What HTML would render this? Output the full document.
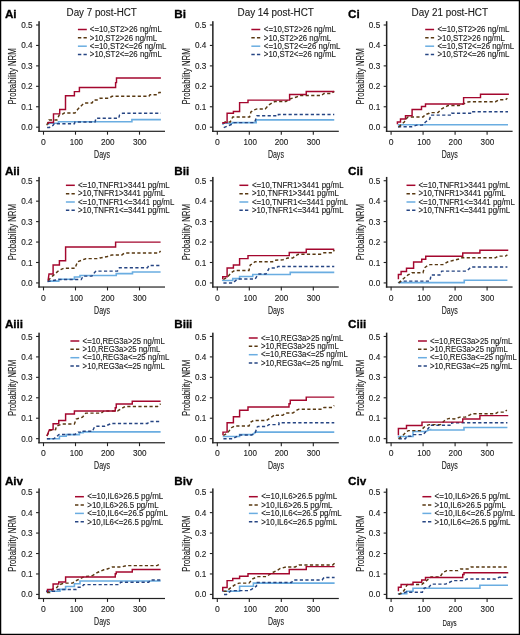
<!DOCTYPE html>
<html><head><meta charset="utf-8"><style>
html,body{margin:0;padding:0;background:#fff;width:520px;height:635px;overflow:hidden}
svg text{font-family:"Liberation Sans", sans-serif;stroke:#1a1a1a;stroke-width:0.12px}
svg{will-change:transform}
</style></head><body>
<svg width="520" height="635" viewBox="0 0 520 635" style="display:block">
<rect x="0" y="0" width="520" height="635" fill="#fff"/>
<text x="4.90" y="17.80" font-size="11.7" font-weight="bold" fill="#000" style="stroke:#000;stroke-width:0.3px">Ai</text>
<rect x="38.30" y="21.20" width="1.5" height="110.65" fill="#222222"/>
<rect x="38.30" y="130.70" width="126.70" height="1.2" fill="#222222"/>
<path d="M36.05,127.20 H38.95" stroke="#222222" stroke-width="1.1"/>
<text x="32.60" y="130.25" font-size="8.8" text-anchor="end" fill="#1a1a1a" textLength="11.4" lengthAdjust="spacingAndGlyphs">0.0</text>
<path d="M36.05,106.76 H38.95" stroke="#222222" stroke-width="1.1"/>
<text x="32.60" y="109.81" font-size="8.8" text-anchor="end" fill="#1a1a1a" textLength="11.4" lengthAdjust="spacingAndGlyphs">0.1</text>
<path d="M36.05,86.32 H38.95" stroke="#222222" stroke-width="1.1"/>
<text x="32.60" y="89.37" font-size="8.8" text-anchor="end" fill="#1a1a1a" textLength="11.4" lengthAdjust="spacingAndGlyphs">0.2</text>
<path d="M36.05,65.88 H38.95" stroke="#222222" stroke-width="1.1"/>
<text x="32.60" y="68.93" font-size="8.8" text-anchor="end" fill="#1a1a1a" textLength="11.4" lengthAdjust="spacingAndGlyphs">0.3</text>
<path d="M36.05,45.44 H38.95" stroke="#222222" stroke-width="1.1"/>
<text x="32.60" y="48.49" font-size="8.8" text-anchor="end" fill="#1a1a1a" textLength="11.4" lengthAdjust="spacingAndGlyphs">0.4</text>
<path d="M36.05,25.00 H38.95" stroke="#222222" stroke-width="1.1"/>
<text x="32.60" y="28.05" font-size="8.8" text-anchor="end" fill="#1a1a1a" textLength="11.4" lengthAdjust="spacingAndGlyphs">0.5</text>
<path d="M43.50,131.10 V134.70" stroke="#222222" stroke-width="1.1"/>
<text x="43.50" y="144.90" font-size="9.6" text-anchor="middle" fill="#1a1a1a" textLength="4.8" lengthAdjust="spacingAndGlyphs">0</text>
<path d="M75.50,131.10 V134.70" stroke="#222222" stroke-width="1.1"/>
<text x="76.40" y="144.90" font-size="9.6" text-anchor="middle" fill="#1a1a1a" textLength="13.4" lengthAdjust="spacingAndGlyphs">100</text>
<path d="M107.50,131.10 V134.70" stroke="#222222" stroke-width="1.1"/>
<text x="107.80" y="144.90" font-size="9.6" text-anchor="middle" fill="#1a1a1a" textLength="13.6" lengthAdjust="spacingAndGlyphs">200</text>
<path d="M139.50,131.10 V134.70" stroke="#222222" stroke-width="1.1"/>
<text x="139.80" y="144.90" font-size="9.6" text-anchor="middle" fill="#1a1a1a" textLength="13.6" lengthAdjust="spacingAndGlyphs">300</text>
<text x="102.10" y="158.00" font-size="10.1" text-anchor="middle" fill="#1a1a1a" textLength="16.0" lengthAdjust="spacingAndGlyphs">Days</text>
<text transform="translate(15.90,104.60) rotate(-90)" x="0" y="0" font-size="10.6" fill="#1a1a1a" textLength="56.3" lengthAdjust="spacingAndGlyphs">Probability NRM</text>
<path d="M77.90,29.50 H86.80" stroke="#A4072E" stroke-width="1.5"/>
<text x="89.80" y="32.25" font-size="8.15" fill="#1a1a1a" textLength="71.99" lengthAdjust="spacingAndGlyphs">&lt;=10,ST2&gt;26 ng/mL</text>
<path d="M77.90,37.85 H86.80" stroke="#583811" stroke-width="1.5" stroke-dasharray="3.4 2.2"/>
<text x="89.80" y="40.60" font-size="8.15" fill="#1a1a1a" textLength="67.39" lengthAdjust="spacingAndGlyphs">&gt;10,ST2&gt;26 ng/mL</text>
<path d="M77.90,46.20 H86.80" stroke="#6AADE1" stroke-width="1.5"/>
<text x="89.80" y="48.95" font-size="8.15" fill="#1a1a1a" textLength="76.58" lengthAdjust="spacingAndGlyphs">&lt;=10,ST2&lt;=26 ng/mL</text>
<path d="M77.90,54.55 H86.80" stroke="#264583" stroke-width="1.5" stroke-dasharray="3.4 2.2"/>
<text x="89.80" y="57.30" font-size="8.15" fill="#1a1a1a" textLength="71.99" lengthAdjust="spacingAndGlyphs">&gt;10,ST2&lt;=26 ng/mL</text>
<path d="M48.6,125 V123.3 H58.5 V121.7 H131.9 V119.6 H160.9" stroke="#6AADE1" stroke-width="1.6" fill="none"/>
<path d="M47.1,127.4 H49.5 L53.2,125.2 L54.2,123.7 H74.4 L75,122 H95 L96,118.25 H118.75 L119.5,115.1 L122.5,113.2 H160.9" stroke="#264583" stroke-width="1.45" fill="none" stroke-dasharray="3.2 2.35"/>
<path d="M46.8,125.2 L48.9,120 H56.9 L59.2,115 L62,114.5 L64.3,112.9 H75 L78,109 L84,103 H92 L94,100 H98 L100,98.25 H109 L112,96.3 H148.9 L150,94.7 H157.5 L159,92.5 H160.9" stroke="#583811" stroke-width="1.45" fill="none" stroke-dasharray="3.2 2.35"/>
<path d="M48.3,124 V122.5 H53.5 V113.85 H59.7 V109.5 H65.5 V95.75 H74.4 V91.6 H79.4 V87.4 H115.6 V82.6 H116.5 V78 H160.9" stroke="#A4072E" stroke-width="1.45" fill="none"/>
<text x="174.20" y="17.80" font-size="11.7" font-weight="bold" fill="#000" style="stroke:#000;stroke-width:0.3px">Bi</text>
<rect x="212.10" y="21.20" width="1.5" height="110.65" fill="#222222"/>
<rect x="212.10" y="130.70" width="126.70" height="1.2" fill="#222222"/>
<path d="M209.85,127.20 H212.75" stroke="#222222" stroke-width="1.1"/>
<text x="206.40" y="130.25" font-size="8.8" text-anchor="end" fill="#1a1a1a" textLength="11.4" lengthAdjust="spacingAndGlyphs">0.0</text>
<path d="M209.85,106.76 H212.75" stroke="#222222" stroke-width="1.1"/>
<text x="206.40" y="109.81" font-size="8.8" text-anchor="end" fill="#1a1a1a" textLength="11.4" lengthAdjust="spacingAndGlyphs">0.1</text>
<path d="M209.85,86.32 H212.75" stroke="#222222" stroke-width="1.1"/>
<text x="206.40" y="89.37" font-size="8.8" text-anchor="end" fill="#1a1a1a" textLength="11.4" lengthAdjust="spacingAndGlyphs">0.2</text>
<path d="M209.85,65.88 H212.75" stroke="#222222" stroke-width="1.1"/>
<text x="206.40" y="68.93" font-size="8.8" text-anchor="end" fill="#1a1a1a" textLength="11.4" lengthAdjust="spacingAndGlyphs">0.3</text>
<path d="M209.85,45.44 H212.75" stroke="#222222" stroke-width="1.1"/>
<text x="206.40" y="48.49" font-size="8.8" text-anchor="end" fill="#1a1a1a" textLength="11.4" lengthAdjust="spacingAndGlyphs">0.4</text>
<path d="M209.85,25.00 H212.75" stroke="#222222" stroke-width="1.1"/>
<text x="206.40" y="28.05" font-size="8.8" text-anchor="end" fill="#1a1a1a" textLength="11.4" lengthAdjust="spacingAndGlyphs">0.5</text>
<path d="M217.30,131.10 V134.70" stroke="#222222" stroke-width="1.1"/>
<text x="217.30" y="144.90" font-size="9.6" text-anchor="middle" fill="#1a1a1a" textLength="4.8" lengthAdjust="spacingAndGlyphs">0</text>
<path d="M249.30,131.10 V134.70" stroke="#222222" stroke-width="1.1"/>
<text x="250.20" y="144.90" font-size="9.6" text-anchor="middle" fill="#1a1a1a" textLength="13.4" lengthAdjust="spacingAndGlyphs">100</text>
<path d="M281.30,131.10 V134.70" stroke="#222222" stroke-width="1.1"/>
<text x="281.60" y="144.90" font-size="9.6" text-anchor="middle" fill="#1a1a1a" textLength="13.6" lengthAdjust="spacingAndGlyphs">200</text>
<path d="M313.30,131.10 V134.70" stroke="#222222" stroke-width="1.1"/>
<text x="313.60" y="144.90" font-size="9.6" text-anchor="middle" fill="#1a1a1a" textLength="13.6" lengthAdjust="spacingAndGlyphs">300</text>
<text x="275.90" y="158.00" font-size="10.1" text-anchor="middle" fill="#1a1a1a" textLength="16.0" lengthAdjust="spacingAndGlyphs">Days</text>
<text transform="translate(189.70,104.60) rotate(-90)" x="0" y="0" font-size="10.6" fill="#1a1a1a" textLength="56.3" lengthAdjust="spacingAndGlyphs">Probability NRM</text>
<path d="M251.35,29.50 H260.25" stroke="#A4072E" stroke-width="1.5"/>
<text x="263.85" y="32.25" font-size="8.15" fill="#1a1a1a" textLength="71.99" lengthAdjust="spacingAndGlyphs">&lt;=10,ST2&gt;26 ng/mL</text>
<path d="M251.35,37.85 H260.25" stroke="#583811" stroke-width="1.5" stroke-dasharray="3.4 2.2"/>
<text x="263.85" y="40.60" font-size="8.15" fill="#1a1a1a" textLength="67.39" lengthAdjust="spacingAndGlyphs">&gt;10,ST2&gt;26 ng/mL</text>
<path d="M251.35,46.20 H260.25" stroke="#6AADE1" stroke-width="1.5"/>
<text x="263.85" y="48.95" font-size="8.15" fill="#1a1a1a" textLength="76.58" lengthAdjust="spacingAndGlyphs">&lt;=10,ST2&lt;=26 ng/mL</text>
<path d="M251.35,54.55 H260.25" stroke="#264583" stroke-width="1.5" stroke-dasharray="3.4 2.2"/>
<text x="263.85" y="57.30" font-size="8.15" fill="#1a1a1a" textLength="71.99" lengthAdjust="spacingAndGlyphs">&gt;10,ST2&lt;=26 ng/mL</text>
<path d="M223,125.1 V123.25 H232.75 V122.6 H256.2 V119.9 H334.25" stroke="#6AADE1" stroke-width="1.6" fill="none"/>
<path d="M223.75,127.6 L232.75,123.9 L234,122.6 H254.5 L257,115.75 H278.4 V114.5 H334.25" stroke="#264583" stroke-width="1.45" fill="none" stroke-dasharray="3.2 2.35"/>
<path d="M223.75,123.5 L225,122 H230.25 L232.75,117 H249.6 L250.9,112 L253.4,110.1 L257,108.9 H265.25 L269,104.75 L272.75,102.6 L275,101.4 H285.9 L290.25,98.9 L296.5,97 L300.25,95.5 H321.5 L324,93.5 H331.5 L334.25,91.4" stroke="#583811" stroke-width="1.45" fill="none" stroke-dasharray="3.2 2.35"/>
<path d="M223,124 V122.6 H227.1 V113.25 H233.4 V111.4 H239.6 V102.6 H248 V100.1 H289.6 V94.5 H306.25 V91.4 H334.25" stroke="#A4072E" stroke-width="1.45" fill="none"/>
<text x="348.00" y="17.80" font-size="11.7" font-weight="bold" fill="#000" style="stroke:#000;stroke-width:0.3px">Ci</text>
<rect x="385.90" y="21.20" width="1.5" height="110.65" fill="#222222"/>
<rect x="385.90" y="130.70" width="126.70" height="1.2" fill="#222222"/>
<path d="M383.65,127.20 H386.55" stroke="#222222" stroke-width="1.1"/>
<text x="380.20" y="130.25" font-size="8.8" text-anchor="end" fill="#1a1a1a" textLength="11.4" lengthAdjust="spacingAndGlyphs">0.0</text>
<path d="M383.65,106.76 H386.55" stroke="#222222" stroke-width="1.1"/>
<text x="380.20" y="109.81" font-size="8.8" text-anchor="end" fill="#1a1a1a" textLength="11.4" lengthAdjust="spacingAndGlyphs">0.1</text>
<path d="M383.65,86.32 H386.55" stroke="#222222" stroke-width="1.1"/>
<text x="380.20" y="89.37" font-size="8.8" text-anchor="end" fill="#1a1a1a" textLength="11.4" lengthAdjust="spacingAndGlyphs">0.2</text>
<path d="M383.65,65.88 H386.55" stroke="#222222" stroke-width="1.1"/>
<text x="380.20" y="68.93" font-size="8.8" text-anchor="end" fill="#1a1a1a" textLength="11.4" lengthAdjust="spacingAndGlyphs">0.3</text>
<path d="M383.65,45.44 H386.55" stroke="#222222" stroke-width="1.1"/>
<text x="380.20" y="48.49" font-size="8.8" text-anchor="end" fill="#1a1a1a" textLength="11.4" lengthAdjust="spacingAndGlyphs">0.4</text>
<path d="M383.65,25.00 H386.55" stroke="#222222" stroke-width="1.1"/>
<text x="380.20" y="28.05" font-size="8.8" text-anchor="end" fill="#1a1a1a" textLength="11.4" lengthAdjust="spacingAndGlyphs">0.5</text>
<path d="M391.10,131.10 V134.70" stroke="#222222" stroke-width="1.1"/>
<text x="391.10" y="144.90" font-size="9.6" text-anchor="middle" fill="#1a1a1a" textLength="4.8" lengthAdjust="spacingAndGlyphs">0</text>
<path d="M423.10,131.10 V134.70" stroke="#222222" stroke-width="1.1"/>
<text x="424.00" y="144.90" font-size="9.6" text-anchor="middle" fill="#1a1a1a" textLength="13.4" lengthAdjust="spacingAndGlyphs">100</text>
<path d="M455.10,131.10 V134.70" stroke="#222222" stroke-width="1.1"/>
<text x="455.40" y="144.90" font-size="9.6" text-anchor="middle" fill="#1a1a1a" textLength="13.6" lengthAdjust="spacingAndGlyphs">200</text>
<path d="M487.10,131.10 V134.70" stroke="#222222" stroke-width="1.1"/>
<text x="487.40" y="144.90" font-size="9.6" text-anchor="middle" fill="#1a1a1a" textLength="13.6" lengthAdjust="spacingAndGlyphs">300</text>
<text x="449.70" y="158.00" font-size="10.1" text-anchor="middle" fill="#1a1a1a" textLength="16.0" lengthAdjust="spacingAndGlyphs">Days</text>
<text transform="translate(363.50,104.60) rotate(-90)" x="0" y="0" font-size="10.6" fill="#1a1a1a" textLength="56.3" lengthAdjust="spacingAndGlyphs">Probability NRM</text>
<path d="M425.20,29.50 H434.10" stroke="#A4072E" stroke-width="1.5"/>
<text x="437.50" y="32.25" font-size="8.15" fill="#1a1a1a" textLength="71.99" lengthAdjust="spacingAndGlyphs">&lt;=10,ST2&gt;26 ng/mL</text>
<path d="M425.20,37.85 H434.10" stroke="#583811" stroke-width="1.5" stroke-dasharray="3.4 2.2"/>
<text x="437.50" y="40.60" font-size="8.15" fill="#1a1a1a" textLength="67.39" lengthAdjust="spacingAndGlyphs">&gt;10,ST2&gt;26 ng/mL</text>
<path d="M425.20,46.20 H434.10" stroke="#6AADE1" stroke-width="1.5"/>
<text x="437.50" y="48.95" font-size="8.15" fill="#1a1a1a" textLength="76.58" lengthAdjust="spacingAndGlyphs">&lt;=10,ST2&lt;=26 ng/mL</text>
<path d="M425.20,54.55 H434.10" stroke="#264583" stroke-width="1.5" stroke-dasharray="3.4 2.2"/>
<text x="437.50" y="57.30" font-size="8.15" fill="#1a1a1a" textLength="71.99" lengthAdjust="spacingAndGlyphs">&gt;10,ST2&lt;=26 ng/mL</text>
<path d="M398.6,125.75 V124.75 H508" stroke="#6AADE1" stroke-width="1.6" fill="none"/>
<path d="M398,127 L400,126.75 H411.75 L416.75,125.1 H422.4 L425.5,122 L429.9,118.9 L430.5,115.1 H451.75 V113.25 H470.5 V111.75 H508" stroke="#264583" stroke-width="1.45" fill="none" stroke-dasharray="3.2 2.35"/>
<path d="M398.6,127 L404.25,122 L406.75,118.25 L408,117 H423 L425.5,114.5 L429.25,113.25 L430,112.6 H438 L441.75,108.9 L448,105.5 H459.25 L468,102 L470,101.75 H495.5 L499.25,99.75 H505.5 L507.4,98.25" stroke="#583811" stroke-width="1.45" fill="none" stroke-dasharray="3.2 2.35"/>
<path d="M397.4,124.25 V122 H400.5 V118.9 H405.5 V115.75 H412.1 V109.5 H421.5 V106.4 H425.5 V103.9 H463.6 V97.6 H480.5 V94.25 H508.9" stroke="#A4072E" stroke-width="1.45" fill="none"/>
<text x="4.90" y="174.90" font-size="11.7" font-weight="bold" fill="#000" style="stroke:#000;stroke-width:0.3px">Aii</text>
<rect x="38.30" y="176.93" width="1.5" height="110.65" fill="#222222"/>
<rect x="38.30" y="286.43" width="126.70" height="1.2" fill="#222222"/>
<path d="M36.05,282.93 H38.95" stroke="#222222" stroke-width="1.1"/>
<text x="32.60" y="285.98" font-size="8.8" text-anchor="end" fill="#1a1a1a" textLength="11.4" lengthAdjust="spacingAndGlyphs">0.0</text>
<path d="M36.05,262.49 H38.95" stroke="#222222" stroke-width="1.1"/>
<text x="32.60" y="265.54" font-size="8.8" text-anchor="end" fill="#1a1a1a" textLength="11.4" lengthAdjust="spacingAndGlyphs">0.1</text>
<path d="M36.05,242.05 H38.95" stroke="#222222" stroke-width="1.1"/>
<text x="32.60" y="245.10" font-size="8.8" text-anchor="end" fill="#1a1a1a" textLength="11.4" lengthAdjust="spacingAndGlyphs">0.2</text>
<path d="M36.05,221.61 H38.95" stroke="#222222" stroke-width="1.1"/>
<text x="32.60" y="224.66" font-size="8.8" text-anchor="end" fill="#1a1a1a" textLength="11.4" lengthAdjust="spacingAndGlyphs">0.3</text>
<path d="M36.05,201.17 H38.95" stroke="#222222" stroke-width="1.1"/>
<text x="32.60" y="204.22" font-size="8.8" text-anchor="end" fill="#1a1a1a" textLength="11.4" lengthAdjust="spacingAndGlyphs">0.4</text>
<path d="M36.05,180.73 H38.95" stroke="#222222" stroke-width="1.1"/>
<text x="32.60" y="183.78" font-size="8.8" text-anchor="end" fill="#1a1a1a" textLength="11.4" lengthAdjust="spacingAndGlyphs">0.5</text>
<path d="M43.50,286.83 V290.43" stroke="#222222" stroke-width="1.1"/>
<text x="43.50" y="300.63" font-size="9.6" text-anchor="middle" fill="#1a1a1a" textLength="4.8" lengthAdjust="spacingAndGlyphs">0</text>
<path d="M75.50,286.83 V290.43" stroke="#222222" stroke-width="1.1"/>
<text x="76.40" y="300.63" font-size="9.6" text-anchor="middle" fill="#1a1a1a" textLength="13.4" lengthAdjust="spacingAndGlyphs">100</text>
<path d="M107.50,286.83 V290.43" stroke="#222222" stroke-width="1.1"/>
<text x="107.80" y="300.63" font-size="9.6" text-anchor="middle" fill="#1a1a1a" textLength="13.6" lengthAdjust="spacingAndGlyphs">200</text>
<path d="M139.50,286.83 V290.43" stroke="#222222" stroke-width="1.1"/>
<text x="139.80" y="300.63" font-size="9.6" text-anchor="middle" fill="#1a1a1a" textLength="13.6" lengthAdjust="spacingAndGlyphs">300</text>
<text x="102.10" y="313.73" font-size="10.1" text-anchor="middle" fill="#1a1a1a" textLength="16.0" lengthAdjust="spacingAndGlyphs">Days</text>
<text transform="translate(15.90,260.33) rotate(-90)" x="0" y="0" font-size="10.6" fill="#1a1a1a" textLength="56.3" lengthAdjust="spacingAndGlyphs">Probability NRM</text>
<path d="M65.90,185.30 H74.80" stroke="#A4072E" stroke-width="1.5"/>
<text x="78.00" y="188.05" font-size="8.15" fill="#1a1a1a" textLength="91.66" lengthAdjust="spacingAndGlyphs">&lt;=10,TNFR1&gt;3441 pg/mL</text>
<path d="M65.90,193.65 H74.80" stroke="#583811" stroke-width="1.5" stroke-dasharray="3.4 2.2"/>
<text x="78.00" y="196.40" font-size="8.15" fill="#1a1a1a" textLength="87.07" lengthAdjust="spacingAndGlyphs">&gt;10,TNFR1&gt;3441 pg/mL</text>
<path d="M65.90,202.00 H74.80" stroke="#6AADE1" stroke-width="1.5"/>
<text x="78.00" y="204.75" font-size="8.15" fill="#1a1a1a" textLength="96.27" lengthAdjust="spacingAndGlyphs">&lt;=10,TNFR1&lt;=3441 pg/mL</text>
<path d="M65.90,210.35 H74.80" stroke="#264583" stroke-width="1.5" stroke-dasharray="3.4 2.2"/>
<text x="78.00" y="213.10" font-size="8.15" fill="#1a1a1a" textLength="91.66" lengthAdjust="spacingAndGlyphs">&gt;10,TNFR1&lt;=3441 pg/mL</text>
<path d="M47.5,281.1 H58.75 V279.25 H74.4 V277 H80 V275.5 H116.25 V273.6 H132.5 V272 H160.6" stroke="#6AADE1" stroke-width="1.6" fill="none"/>
<path d="M47.5,281.5 L58.75,279.5 H81.25 L83.1,276.1 H91.9 L95,272 L96,271.1 H117.5 L119.4,267.75 H147.5 L148.75,265.5 H160.6" stroke="#264583" stroke-width="1.45" fill="none" stroke-dasharray="3.2 2.35"/>
<path d="M48.1,280.5 L52.5,276.1 L58.75,270.5 L63.75,268.25 H75 L77.5,261.75 L85,259 L86,258.6 H98.75 L100,258 L107.5,256.5 L112,254.9 H121.9 L124.4,253 H158.75 L160.6,251.1" stroke="#583811" stroke-width="1.45" fill="none" stroke-dasharray="3.2 2.35"/>
<path d="M48.1,280.5 L49,274 H53.1 V264.9 H59.4 V260.75 H65.6 V247 H115.6 V242.1 H160.6" stroke="#A4072E" stroke-width="1.45" fill="none"/>
<text x="174.20" y="174.90" font-size="11.7" font-weight="bold" fill="#000" style="stroke:#000;stroke-width:0.3px">Bii</text>
<rect x="212.10" y="176.93" width="1.5" height="110.65" fill="#222222"/>
<rect x="212.10" y="286.43" width="126.70" height="1.2" fill="#222222"/>
<path d="M209.85,282.93 H212.75" stroke="#222222" stroke-width="1.1"/>
<text x="206.40" y="285.98" font-size="8.8" text-anchor="end" fill="#1a1a1a" textLength="11.4" lengthAdjust="spacingAndGlyphs">0.0</text>
<path d="M209.85,262.49 H212.75" stroke="#222222" stroke-width="1.1"/>
<text x="206.40" y="265.54" font-size="8.8" text-anchor="end" fill="#1a1a1a" textLength="11.4" lengthAdjust="spacingAndGlyphs">0.1</text>
<path d="M209.85,242.05 H212.75" stroke="#222222" stroke-width="1.1"/>
<text x="206.40" y="245.10" font-size="8.8" text-anchor="end" fill="#1a1a1a" textLength="11.4" lengthAdjust="spacingAndGlyphs">0.2</text>
<path d="M209.85,221.61 H212.75" stroke="#222222" stroke-width="1.1"/>
<text x="206.40" y="224.66" font-size="8.8" text-anchor="end" fill="#1a1a1a" textLength="11.4" lengthAdjust="spacingAndGlyphs">0.3</text>
<path d="M209.85,201.17 H212.75" stroke="#222222" stroke-width="1.1"/>
<text x="206.40" y="204.22" font-size="8.8" text-anchor="end" fill="#1a1a1a" textLength="11.4" lengthAdjust="spacingAndGlyphs">0.4</text>
<path d="M209.85,180.73 H212.75" stroke="#222222" stroke-width="1.1"/>
<text x="206.40" y="183.78" font-size="8.8" text-anchor="end" fill="#1a1a1a" textLength="11.4" lengthAdjust="spacingAndGlyphs">0.5</text>
<path d="M217.30,286.83 V290.43" stroke="#222222" stroke-width="1.1"/>
<text x="217.30" y="300.63" font-size="9.6" text-anchor="middle" fill="#1a1a1a" textLength="4.8" lengthAdjust="spacingAndGlyphs">0</text>
<path d="M249.30,286.83 V290.43" stroke="#222222" stroke-width="1.1"/>
<text x="250.20" y="300.63" font-size="9.6" text-anchor="middle" fill="#1a1a1a" textLength="13.4" lengthAdjust="spacingAndGlyphs">100</text>
<path d="M281.30,286.83 V290.43" stroke="#222222" stroke-width="1.1"/>
<text x="281.60" y="300.63" font-size="9.6" text-anchor="middle" fill="#1a1a1a" textLength="13.6" lengthAdjust="spacingAndGlyphs">200</text>
<path d="M313.30,286.83 V290.43" stroke="#222222" stroke-width="1.1"/>
<text x="313.60" y="300.63" font-size="9.6" text-anchor="middle" fill="#1a1a1a" textLength="13.6" lengthAdjust="spacingAndGlyphs">300</text>
<text x="275.90" y="313.73" font-size="10.1" text-anchor="middle" fill="#1a1a1a" textLength="16.0" lengthAdjust="spacingAndGlyphs">Days</text>
<text transform="translate(189.70,260.33) rotate(-90)" x="0" y="0" font-size="10.6" fill="#1a1a1a" textLength="56.3" lengthAdjust="spacingAndGlyphs">Probability NRM</text>
<path d="M239.40,185.30 H248.30" stroke="#A4072E" stroke-width="1.5"/>
<text x="251.90" y="188.05" font-size="8.15" fill="#1a1a1a" textLength="91.66" lengthAdjust="spacingAndGlyphs">&lt;=10,TNFR1&gt;3441 pg/mL</text>
<path d="M239.40,193.65 H248.30" stroke="#583811" stroke-width="1.5" stroke-dasharray="3.4 2.2"/>
<text x="251.90" y="196.40" font-size="8.15" fill="#1a1a1a" textLength="87.07" lengthAdjust="spacingAndGlyphs">&gt;10,TNFR1&gt;3441 pg/mL</text>
<path d="M239.40,202.00 H248.30" stroke="#6AADE1" stroke-width="1.5"/>
<text x="251.90" y="204.75" font-size="8.15" fill="#1a1a1a" textLength="96.27" lengthAdjust="spacingAndGlyphs">&lt;=10,TNFR1&lt;=3441 pg/mL</text>
<path d="M239.40,210.35 H248.30" stroke="#264583" stroke-width="1.5" stroke-dasharray="3.4 2.2"/>
<text x="251.90" y="213.10" font-size="8.15" fill="#1a1a1a" textLength="91.66" lengthAdjust="spacingAndGlyphs">&gt;10,TNFR1&lt;=3441 pg/mL</text>
<path d="M222.75,281.1 V280.5 H232.75 V278.6 H239.6 V276.5 H252.75 V274.5 H290.25 V272.4 H334.25" stroke="#6AADE1" stroke-width="1.6" fill="none"/>
<path d="M223.4,283 H232.75 L236.5,279.9 L238,279 H255.25 L257.75,274.9 L259,274 H265.9 L269,268.6 L270,268 H276.5 L278,266.5 H334.25" stroke="#264583" stroke-width="1.45" fill="none" stroke-dasharray="3.2 2.35"/>
<path d="M223.4,279.5 L227.75,276.75 L231.5,272.4 L234.6,270.5 H249 L250.25,264.9 L252.75,263.6 L255,261.75 H272.75 L274.6,260.2 L282.75,259.9 L287.75,258 H292.75 L297.75,254.5 L299,254.25 H321.5 L324,252.75 H332.75 L334.25,249.9" stroke="#583811" stroke-width="1.45" fill="none" stroke-dasharray="3.2 2.35"/>
<path d="M222.75,279.25 V276.75 H227.1 V268 H233.4 V264.9 H239.6 V258.6 H248 V255.6 H289.25 V252.4 H306.25 V249.25 H334.25" stroke="#A4072E" stroke-width="1.45" fill="none"/>
<text x="348.00" y="174.90" font-size="11.7" font-weight="bold" fill="#000" style="stroke:#000;stroke-width:0.3px">Cii</text>
<rect x="385.90" y="176.93" width="1.5" height="110.65" fill="#222222"/>
<rect x="385.90" y="286.43" width="126.70" height="1.2" fill="#222222"/>
<path d="M383.65,282.93 H386.55" stroke="#222222" stroke-width="1.1"/>
<text x="380.20" y="285.98" font-size="8.8" text-anchor="end" fill="#1a1a1a" textLength="11.4" lengthAdjust="spacingAndGlyphs">0.0</text>
<path d="M383.65,262.49 H386.55" stroke="#222222" stroke-width="1.1"/>
<text x="380.20" y="265.54" font-size="8.8" text-anchor="end" fill="#1a1a1a" textLength="11.4" lengthAdjust="spacingAndGlyphs">0.1</text>
<path d="M383.65,242.05 H386.55" stroke="#222222" stroke-width="1.1"/>
<text x="380.20" y="245.10" font-size="8.8" text-anchor="end" fill="#1a1a1a" textLength="11.4" lengthAdjust="spacingAndGlyphs">0.2</text>
<path d="M383.65,221.61 H386.55" stroke="#222222" stroke-width="1.1"/>
<text x="380.20" y="224.66" font-size="8.8" text-anchor="end" fill="#1a1a1a" textLength="11.4" lengthAdjust="spacingAndGlyphs">0.3</text>
<path d="M383.65,201.17 H386.55" stroke="#222222" stroke-width="1.1"/>
<text x="380.20" y="204.22" font-size="8.8" text-anchor="end" fill="#1a1a1a" textLength="11.4" lengthAdjust="spacingAndGlyphs">0.4</text>
<path d="M383.65,180.73 H386.55" stroke="#222222" stroke-width="1.1"/>
<text x="380.20" y="183.78" font-size="8.8" text-anchor="end" fill="#1a1a1a" textLength="11.4" lengthAdjust="spacingAndGlyphs">0.5</text>
<path d="M391.10,286.83 V290.43" stroke="#222222" stroke-width="1.1"/>
<text x="391.10" y="300.63" font-size="9.6" text-anchor="middle" fill="#1a1a1a" textLength="4.8" lengthAdjust="spacingAndGlyphs">0</text>
<path d="M423.10,286.83 V290.43" stroke="#222222" stroke-width="1.1"/>
<text x="424.00" y="300.63" font-size="9.6" text-anchor="middle" fill="#1a1a1a" textLength="13.4" lengthAdjust="spacingAndGlyphs">100</text>
<path d="M455.10,286.83 V290.43" stroke="#222222" stroke-width="1.1"/>
<text x="455.40" y="300.63" font-size="9.6" text-anchor="middle" fill="#1a1a1a" textLength="13.6" lengthAdjust="spacingAndGlyphs">200</text>
<path d="M487.10,286.83 V290.43" stroke="#222222" stroke-width="1.1"/>
<text x="487.40" y="300.63" font-size="9.6" text-anchor="middle" fill="#1a1a1a" textLength="13.6" lengthAdjust="spacingAndGlyphs">300</text>
<text x="449.70" y="313.73" font-size="10.1" text-anchor="middle" fill="#1a1a1a" textLength="16.0" lengthAdjust="spacingAndGlyphs">Days</text>
<text transform="translate(363.50,260.33) rotate(-90)" x="0" y="0" font-size="10.6" fill="#1a1a1a" textLength="56.3" lengthAdjust="spacingAndGlyphs">Probability NRM</text>
<path d="M406.50,185.30 H415.40" stroke="#A4072E" stroke-width="1.5"/>
<text x="418.50" y="188.05" font-size="8.15" fill="#1a1a1a" textLength="91.66" lengthAdjust="spacingAndGlyphs">&lt;=10,TNFR1&gt;3441 pg/mL</text>
<path d="M406.50,193.65 H415.40" stroke="#583811" stroke-width="1.5" stroke-dasharray="3.4 2.2"/>
<text x="418.50" y="196.40" font-size="8.15" fill="#1a1a1a" textLength="87.07" lengthAdjust="spacingAndGlyphs">&gt;10,TNFR1&gt;3441 pg/mL</text>
<path d="M406.50,202.00 H415.40" stroke="#6AADE1" stroke-width="1.5"/>
<text x="418.50" y="204.75" font-size="8.15" fill="#1a1a1a" textLength="96.27" lengthAdjust="spacingAndGlyphs">&lt;=10,TNFR1&lt;=3441 pg/mL</text>
<path d="M406.50,210.35 H415.40" stroke="#264583" stroke-width="1.5" stroke-dasharray="3.4 2.2"/>
<text x="418.50" y="213.10" font-size="8.15" fill="#1a1a1a" textLength="91.66" lengthAdjust="spacingAndGlyphs">&gt;10,TNFR1&lt;=3441 pg/mL</text>
<path d="M398.6,283 V282.6 H464.25 V280.25 H507.4" stroke="#6AADE1" stroke-width="1.6" fill="none"/>
<path d="M398.6,283 L401.75,281.1 H429.9 L431.1,274.9 H439.9 L441.75,271.1 H466.75 L471.1,267 H507.4" stroke="#264583" stroke-width="1.45" fill="none" stroke-dasharray="3.2 2.35"/>
<path d="M398.6,283 L404.25,278 L408,274.9 L411.75,273 L412,272.75 H423 L424.25,268 L428,265.25 L430,264.6 H443 L448,261.75 L453,260.5 L460.5,258.6 L462,257.75 H495.5 L498,256.1 H505.5 L507.4,254.9" stroke="#583811" stroke-width="1.45" fill="none" stroke-dasharray="3.2 2.35"/>
<path d="M398.4,279.25 V274.5 H401.1 V271.5 H406.5 V268.25 H413.6 V262 H421.75 V259.25 H425.75 V256.3 H462.75 V253 H479.9 V250.25 H508.25" stroke="#A4072E" stroke-width="1.45" fill="none"/>
<text x="4.90" y="328.30" font-size="11.7" font-weight="bold" fill="#000" style="stroke:#000;stroke-width:0.3px">Aiii</text>
<rect x="38.30" y="332.66" width="1.5" height="110.65" fill="#222222"/>
<rect x="38.30" y="442.16" width="126.70" height="1.2" fill="#222222"/>
<path d="M36.05,438.66 H38.95" stroke="#222222" stroke-width="1.1"/>
<text x="32.60" y="441.71" font-size="8.8" text-anchor="end" fill="#1a1a1a" textLength="11.4" lengthAdjust="spacingAndGlyphs">0.0</text>
<path d="M36.05,418.22 H38.95" stroke="#222222" stroke-width="1.1"/>
<text x="32.60" y="421.27" font-size="8.8" text-anchor="end" fill="#1a1a1a" textLength="11.4" lengthAdjust="spacingAndGlyphs">0.1</text>
<path d="M36.05,397.78 H38.95" stroke="#222222" stroke-width="1.1"/>
<text x="32.60" y="400.83" font-size="8.8" text-anchor="end" fill="#1a1a1a" textLength="11.4" lengthAdjust="spacingAndGlyphs">0.2</text>
<path d="M36.05,377.34 H38.95" stroke="#222222" stroke-width="1.1"/>
<text x="32.60" y="380.39" font-size="8.8" text-anchor="end" fill="#1a1a1a" textLength="11.4" lengthAdjust="spacingAndGlyphs">0.3</text>
<path d="M36.05,356.90 H38.95" stroke="#222222" stroke-width="1.1"/>
<text x="32.60" y="359.95" font-size="8.8" text-anchor="end" fill="#1a1a1a" textLength="11.4" lengthAdjust="spacingAndGlyphs">0.4</text>
<path d="M36.05,336.46 H38.95" stroke="#222222" stroke-width="1.1"/>
<text x="32.60" y="339.51" font-size="8.8" text-anchor="end" fill="#1a1a1a" textLength="11.4" lengthAdjust="spacingAndGlyphs">0.5</text>
<path d="M43.50,442.56 V446.16" stroke="#222222" stroke-width="1.1"/>
<text x="43.50" y="456.36" font-size="9.6" text-anchor="middle" fill="#1a1a1a" textLength="4.8" lengthAdjust="spacingAndGlyphs">0</text>
<path d="M75.50,442.56 V446.16" stroke="#222222" stroke-width="1.1"/>
<text x="76.40" y="456.36" font-size="9.6" text-anchor="middle" fill="#1a1a1a" textLength="13.4" lengthAdjust="spacingAndGlyphs">100</text>
<path d="M107.50,442.56 V446.16" stroke="#222222" stroke-width="1.1"/>
<text x="107.80" y="456.36" font-size="9.6" text-anchor="middle" fill="#1a1a1a" textLength="13.6" lengthAdjust="spacingAndGlyphs">200</text>
<path d="M139.50,442.56 V446.16" stroke="#222222" stroke-width="1.1"/>
<text x="139.80" y="456.36" font-size="9.6" text-anchor="middle" fill="#1a1a1a" textLength="13.6" lengthAdjust="spacingAndGlyphs">300</text>
<text x="102.10" y="469.46" font-size="10.1" text-anchor="middle" fill="#1a1a1a" textLength="16.0" lengthAdjust="spacingAndGlyphs">Days</text>
<text transform="translate(15.90,416.06) rotate(-90)" x="0" y="0" font-size="10.6" fill="#1a1a1a" textLength="56.3" lengthAdjust="spacingAndGlyphs">Probability NRM</text>
<path d="M70.40,341.00 H79.30" stroke="#A4072E" stroke-width="1.5"/>
<text x="82.60" y="343.75" font-size="8.15" fill="#1a1a1a" textLength="82.28" lengthAdjust="spacingAndGlyphs">&lt;=10,REG3a&gt;25 ng/mL</text>
<path d="M70.40,349.35 H79.30" stroke="#583811" stroke-width="1.5" stroke-dasharray="3.4 2.2"/>
<text x="82.60" y="352.10" font-size="8.15" fill="#1a1a1a" textLength="77.74" lengthAdjust="spacingAndGlyphs">&gt;10,REG3a&gt;25 ng/mL</text>
<path d="M70.40,357.70 H79.30" stroke="#6AADE1" stroke-width="1.5"/>
<text x="82.60" y="360.45" font-size="8.15" fill="#1a1a1a" textLength="86.81" lengthAdjust="spacingAndGlyphs">&lt;=10,REG3a&lt;=25 ng/mL</text>
<path d="M70.40,366.05 H79.30" stroke="#264583" stroke-width="1.5" stroke-dasharray="3.4 2.2"/>
<text x="82.60" y="368.80" font-size="8.15" fill="#1a1a1a" textLength="82.28" lengthAdjust="spacingAndGlyphs">&gt;10,REG3a&lt;=25 ng/mL</text>
<path d="M46.9,438.75 H59.4 V436.25 H66.25 V434.6 H79.4 V432.75 H83.1 V431.9 H160.6" stroke="#6AADE1" stroke-width="1.6" fill="none"/>
<path d="M46.9,438.75 H53.75 L56.25,437.1 L58.75,434.6 L60,434.4 H75 L76.9,433 L78,432.1 H82.5 V431.25 H92.5 L94.4,427.1 L96,426.25 H105 L110,424 L111,423.4 H147.5 L149.4,421.5 H160.6" stroke="#264583" stroke-width="1.45" fill="none" stroke-dasharray="3.2 2.35"/>
<path d="M46.9,435.9 L50,430.25 L55.6,429.6 L56.25,426.5 L58,425.5 L62.5,424 H74.4 L76.25,419 L82.5,417.1 L85.6,413.4 L86,413.1 H101.25 L104,410.9 H117.5 L121.9,408.4 L125,406.5 H157.5 L160.6,403.75" stroke="#583811" stroke-width="1.45" fill="none" stroke-dasharray="3.2 2.35"/>
<path d="M46.9,435.9 L49.4,429.6 H53.1 V423.75 H58.75 V420.5 H65.6 V414 H74.4 V410.9 H115.25 V407.75 H116.25 V404 H132.25 V401.25 H160.6" stroke="#A4072E" stroke-width="1.45" fill="none"/>
<text x="174.20" y="328.30" font-size="11.7" font-weight="bold" fill="#000" style="stroke:#000;stroke-width:0.3px">Biii</text>
<rect x="212.10" y="332.66" width="1.5" height="110.65" fill="#222222"/>
<rect x="212.10" y="442.16" width="126.70" height="1.2" fill="#222222"/>
<path d="M209.85,438.66 H212.75" stroke="#222222" stroke-width="1.1"/>
<text x="206.40" y="441.71" font-size="8.8" text-anchor="end" fill="#1a1a1a" textLength="11.4" lengthAdjust="spacingAndGlyphs">0.0</text>
<path d="M209.85,418.22 H212.75" stroke="#222222" stroke-width="1.1"/>
<text x="206.40" y="421.27" font-size="8.8" text-anchor="end" fill="#1a1a1a" textLength="11.4" lengthAdjust="spacingAndGlyphs">0.1</text>
<path d="M209.85,397.78 H212.75" stroke="#222222" stroke-width="1.1"/>
<text x="206.40" y="400.83" font-size="8.8" text-anchor="end" fill="#1a1a1a" textLength="11.4" lengthAdjust="spacingAndGlyphs">0.2</text>
<path d="M209.85,377.34 H212.75" stroke="#222222" stroke-width="1.1"/>
<text x="206.40" y="380.39" font-size="8.8" text-anchor="end" fill="#1a1a1a" textLength="11.4" lengthAdjust="spacingAndGlyphs">0.3</text>
<path d="M209.85,356.90 H212.75" stroke="#222222" stroke-width="1.1"/>
<text x="206.40" y="359.95" font-size="8.8" text-anchor="end" fill="#1a1a1a" textLength="11.4" lengthAdjust="spacingAndGlyphs">0.4</text>
<path d="M209.85,336.46 H212.75" stroke="#222222" stroke-width="1.1"/>
<text x="206.40" y="339.51" font-size="8.8" text-anchor="end" fill="#1a1a1a" textLength="11.4" lengthAdjust="spacingAndGlyphs">0.5</text>
<path d="M217.30,442.56 V446.16" stroke="#222222" stroke-width="1.1"/>
<text x="217.30" y="456.36" font-size="9.6" text-anchor="middle" fill="#1a1a1a" textLength="4.8" lengthAdjust="spacingAndGlyphs">0</text>
<path d="M249.30,442.56 V446.16" stroke="#222222" stroke-width="1.1"/>
<text x="250.20" y="456.36" font-size="9.6" text-anchor="middle" fill="#1a1a1a" textLength="13.4" lengthAdjust="spacingAndGlyphs">100</text>
<path d="M281.30,442.56 V446.16" stroke="#222222" stroke-width="1.1"/>
<text x="281.60" y="456.36" font-size="9.6" text-anchor="middle" fill="#1a1a1a" textLength="13.6" lengthAdjust="spacingAndGlyphs">200</text>
<path d="M313.30,442.56 V446.16" stroke="#222222" stroke-width="1.1"/>
<text x="313.60" y="456.36" font-size="9.6" text-anchor="middle" fill="#1a1a1a" textLength="13.6" lengthAdjust="spacingAndGlyphs">300</text>
<text x="275.90" y="469.46" font-size="10.1" text-anchor="middle" fill="#1a1a1a" textLength="16.0" lengthAdjust="spacingAndGlyphs">Days</text>
<text transform="translate(189.70,416.06) rotate(-90)" x="0" y="0" font-size="10.6" fill="#1a1a1a" textLength="56.3" lengthAdjust="spacingAndGlyphs">Probability NRM</text>
<path d="M248.80,338.00 H257.70" stroke="#A4072E" stroke-width="1.5"/>
<text x="261.00" y="340.75" font-size="8.15" fill="#1a1a1a" textLength="82.28" lengthAdjust="spacingAndGlyphs">&lt;=10,REG3a&gt;25 ng/mL</text>
<path d="M248.80,346.35 H257.70" stroke="#583811" stroke-width="1.5" stroke-dasharray="3.4 2.2"/>
<text x="261.00" y="349.10" font-size="8.15" fill="#1a1a1a" textLength="77.74" lengthAdjust="spacingAndGlyphs">&gt;10,REG3a&gt;25 ng/mL</text>
<path d="M248.80,354.70 H257.70" stroke="#6AADE1" stroke-width="1.5"/>
<text x="261.00" y="357.45" font-size="8.15" fill="#1a1a1a" textLength="86.81" lengthAdjust="spacingAndGlyphs">&lt;=10,REG3a&lt;=25 ng/mL</text>
<path d="M248.80,363.05 H257.70" stroke="#264583" stroke-width="1.5" stroke-dasharray="3.4 2.2"/>
<text x="261.00" y="365.80" font-size="8.15" fill="#1a1a1a" textLength="82.28" lengthAdjust="spacingAndGlyphs">&gt;10,REG3a&lt;=25 ng/mL</text>
<path d="M222.75,436.5 H239.6 V434.6 H252.75 L255.25,432.1 H334.25" stroke="#6AADE1" stroke-width="1.6" fill="none"/>
<path d="M223.4,438.75 H232.75 L239,435.25 L240,435 H251.5 L255.25,432.75 L257.1,427.1 L258,426.5 H266.5 L268.4,425 L269,424.6 H279 V422.75 H334.25" stroke="#264583" stroke-width="1.45" fill="none" stroke-dasharray="3.2 2.35"/>
<path d="M223.4,435.5 L227.75,432.75 L231.5,427.75 L234.6,425.9 H249 L250.9,422.1 L253.4,420.5 H266.5 L271.5,417.1 L275.25,414.6 L276,415.25 H282.75 L285.25,413.4 L286,413 H292.75 L297.75,409.6 L299,409.25 H322.1 L324,407.5 H332.1 L334.25,405.5" stroke="#583811" stroke-width="1.45" fill="none" stroke-dasharray="3.2 2.35"/>
<path d="M223,435.25 V432.1 H227.1 V422.75 H233.4 V416.75 H239.6 V410.25 H248 V406.9 H289 V403.75 H290.25 V400.25 H306.25 V397.1 H334.25" stroke="#A4072E" stroke-width="1.45" fill="none"/>
<text x="348.00" y="328.30" font-size="11.7" font-weight="bold" fill="#000" style="stroke:#000;stroke-width:0.3px">Ciii</text>
<rect x="385.90" y="332.66" width="1.5" height="110.65" fill="#222222"/>
<rect x="385.90" y="442.16" width="126.70" height="1.2" fill="#222222"/>
<path d="M383.65,438.66 H386.55" stroke="#222222" stroke-width="1.1"/>
<text x="380.20" y="441.71" font-size="8.8" text-anchor="end" fill="#1a1a1a" textLength="11.4" lengthAdjust="spacingAndGlyphs">0.0</text>
<path d="M383.65,418.22 H386.55" stroke="#222222" stroke-width="1.1"/>
<text x="380.20" y="421.27" font-size="8.8" text-anchor="end" fill="#1a1a1a" textLength="11.4" lengthAdjust="spacingAndGlyphs">0.1</text>
<path d="M383.65,397.78 H386.55" stroke="#222222" stroke-width="1.1"/>
<text x="380.20" y="400.83" font-size="8.8" text-anchor="end" fill="#1a1a1a" textLength="11.4" lengthAdjust="spacingAndGlyphs">0.2</text>
<path d="M383.65,377.34 H386.55" stroke="#222222" stroke-width="1.1"/>
<text x="380.20" y="380.39" font-size="8.8" text-anchor="end" fill="#1a1a1a" textLength="11.4" lengthAdjust="spacingAndGlyphs">0.3</text>
<path d="M383.65,356.90 H386.55" stroke="#222222" stroke-width="1.1"/>
<text x="380.20" y="359.95" font-size="8.8" text-anchor="end" fill="#1a1a1a" textLength="11.4" lengthAdjust="spacingAndGlyphs">0.4</text>
<path d="M383.65,336.46 H386.55" stroke="#222222" stroke-width="1.1"/>
<text x="380.20" y="339.51" font-size="8.8" text-anchor="end" fill="#1a1a1a" textLength="11.4" lengthAdjust="spacingAndGlyphs">0.5</text>
<path d="M391.10,442.56 V446.16" stroke="#222222" stroke-width="1.1"/>
<text x="391.10" y="456.36" font-size="9.6" text-anchor="middle" fill="#1a1a1a" textLength="4.8" lengthAdjust="spacingAndGlyphs">0</text>
<path d="M423.10,442.56 V446.16" stroke="#222222" stroke-width="1.1"/>
<text x="424.00" y="456.36" font-size="9.6" text-anchor="middle" fill="#1a1a1a" textLength="13.4" lengthAdjust="spacingAndGlyphs">100</text>
<path d="M455.10,442.56 V446.16" stroke="#222222" stroke-width="1.1"/>
<text x="455.40" y="456.36" font-size="9.6" text-anchor="middle" fill="#1a1a1a" textLength="13.6" lengthAdjust="spacingAndGlyphs">200</text>
<path d="M487.10,442.56 V446.16" stroke="#222222" stroke-width="1.1"/>
<text x="487.40" y="456.36" font-size="9.6" text-anchor="middle" fill="#1a1a1a" textLength="13.6" lengthAdjust="spacingAndGlyphs">300</text>
<text x="449.70" y="469.46" font-size="10.1" text-anchor="middle" fill="#1a1a1a" textLength="16.0" lengthAdjust="spacingAndGlyphs">Days</text>
<text transform="translate(363.50,416.06) rotate(-90)" x="0" y="0" font-size="10.6" fill="#1a1a1a" textLength="56.3" lengthAdjust="spacingAndGlyphs">Probability NRM</text>
<path d="M418.00,341.00 H426.90" stroke="#A4072E" stroke-width="1.5"/>
<text x="430.00" y="343.75" font-size="8.15" fill="#1a1a1a" textLength="82.28" lengthAdjust="spacingAndGlyphs">&lt;=10,REG3a&gt;25 ng/mL</text>
<path d="M418.00,349.35 H426.90" stroke="#583811" stroke-width="1.5" stroke-dasharray="3.4 2.2"/>
<text x="430.00" y="352.10" font-size="8.15" fill="#1a1a1a" textLength="77.74" lengthAdjust="spacingAndGlyphs">&gt;10,REG3a&gt;25 ng/mL</text>
<path d="M418.00,357.70 H426.90" stroke="#6AADE1" stroke-width="1.5"/>
<text x="430.00" y="360.45" font-size="8.15" fill="#1a1a1a" textLength="86.81" lengthAdjust="spacingAndGlyphs">&lt;=10,REG3a&lt;=25 ng/mL</text>
<path d="M418.00,366.05 H426.90" stroke="#264583" stroke-width="1.5" stroke-dasharray="3.4 2.2"/>
<text x="430.00" y="368.80" font-size="8.15" fill="#1a1a1a" textLength="82.28" lengthAdjust="spacingAndGlyphs">&gt;10,REG3a&lt;=25 ng/mL</text>
<path d="M398.6,437.75 V436.5 H413 V431.5 H425.5 L430.5,429.6 V430 H464 V427.5 H507.4" stroke="#6AADE1" stroke-width="1.6" fill="none"/>
<path d="M398.6,438.75 H405.5 L406.75,436.25 H411.1 L413,434.6 H423 L425.5,432.1 L429.25,427.1 L430.5,425.25 H451.75 V422.75 H507.4" stroke="#264583" stroke-width="1.45" fill="none" stroke-dasharray="3.2 2.35"/>
<path d="M398.6,438.75 L403,435.25 L406.75,431.5 L408.6,430.6 H420.5 L425.5,425.9 L429.25,424.6 H440.5 L445.5,419.6 L449.25,418.4 L454.25,419 L458,417.75 L460,417.1 H465.5 L470.5,414.6 L472,413.75 H495.5 L498,412.1 H504.9 L506.75,410" stroke="#583811" stroke-width="1.45" fill="none" stroke-dasharray="3.2 2.35"/>
<path d="M398.4,435.25 V428.4 H406.5 V425.5 H422 V422.1 H462.75 V419 H479.9 V415.6 H508.25" stroke="#A4072E" stroke-width="1.45" fill="none"/>
<text x="4.90" y="484.75" font-size="11.7" font-weight="bold" fill="#000" style="stroke:#000;stroke-width:0.3px">Aiv</text>
<rect x="38.30" y="488.40" width="1.5" height="110.65" fill="#222222"/>
<rect x="38.30" y="597.90" width="126.70" height="1.2" fill="#222222"/>
<path d="M36.05,594.40 H38.95" stroke="#222222" stroke-width="1.1"/>
<text x="32.60" y="597.45" font-size="8.8" text-anchor="end" fill="#1a1a1a" textLength="11.4" lengthAdjust="spacingAndGlyphs">0.0</text>
<path d="M36.05,573.96 H38.95" stroke="#222222" stroke-width="1.1"/>
<text x="32.60" y="577.01" font-size="8.8" text-anchor="end" fill="#1a1a1a" textLength="11.4" lengthAdjust="spacingAndGlyphs">0.1</text>
<path d="M36.05,553.52 H38.95" stroke="#222222" stroke-width="1.1"/>
<text x="32.60" y="556.57" font-size="8.8" text-anchor="end" fill="#1a1a1a" textLength="11.4" lengthAdjust="spacingAndGlyphs">0.2</text>
<path d="M36.05,533.08 H38.95" stroke="#222222" stroke-width="1.1"/>
<text x="32.60" y="536.13" font-size="8.8" text-anchor="end" fill="#1a1a1a" textLength="11.4" lengthAdjust="spacingAndGlyphs">0.3</text>
<path d="M36.05,512.64 H38.95" stroke="#222222" stroke-width="1.1"/>
<text x="32.60" y="515.69" font-size="8.8" text-anchor="end" fill="#1a1a1a" textLength="11.4" lengthAdjust="spacingAndGlyphs">0.4</text>
<path d="M36.05,492.20 H38.95" stroke="#222222" stroke-width="1.1"/>
<text x="32.60" y="495.25" font-size="8.8" text-anchor="end" fill="#1a1a1a" textLength="11.4" lengthAdjust="spacingAndGlyphs">0.5</text>
<path d="M43.50,598.30 V601.90" stroke="#222222" stroke-width="1.1"/>
<text x="43.50" y="612.10" font-size="9.6" text-anchor="middle" fill="#1a1a1a" textLength="4.8" lengthAdjust="spacingAndGlyphs">0</text>
<path d="M75.50,598.30 V601.90" stroke="#222222" stroke-width="1.1"/>
<text x="76.40" y="612.10" font-size="9.6" text-anchor="middle" fill="#1a1a1a" textLength="13.4" lengthAdjust="spacingAndGlyphs">100</text>
<path d="M107.50,598.30 V601.90" stroke="#222222" stroke-width="1.1"/>
<text x="107.80" y="612.10" font-size="9.6" text-anchor="middle" fill="#1a1a1a" textLength="13.6" lengthAdjust="spacingAndGlyphs">200</text>
<path d="M139.50,598.30 V601.90" stroke="#222222" stroke-width="1.1"/>
<text x="139.80" y="612.10" font-size="9.6" text-anchor="middle" fill="#1a1a1a" textLength="13.6" lengthAdjust="spacingAndGlyphs">300</text>
<text x="102.10" y="625.20" font-size="10.1" text-anchor="middle" fill="#1a1a1a" textLength="16.0" lengthAdjust="spacingAndGlyphs">Days</text>
<text transform="translate(15.90,571.80) rotate(-90)" x="0" y="0" font-size="10.6" fill="#1a1a1a" textLength="56.3" lengthAdjust="spacingAndGlyphs">Probability NRM</text>
<path d="M75.00,496.70 H83.90" stroke="#A4072E" stroke-width="1.5"/>
<text x="87.25" y="499.45" font-size="8.15" fill="#1a1a1a" textLength="75.95" lengthAdjust="spacingAndGlyphs">&lt;=10,IL6&gt;26.5 pg/mL</text>
<path d="M75.00,505.05 H83.90" stroke="#583811" stroke-width="1.5" stroke-dasharray="3.4 2.2"/>
<text x="87.25" y="507.80" font-size="8.15" fill="#1a1a1a" textLength="71.31" lengthAdjust="spacingAndGlyphs">&gt;10,IL6&gt;26.5 pg/mL</text>
<path d="M75.00,513.40 H83.90" stroke="#6AADE1" stroke-width="1.5"/>
<text x="87.25" y="516.15" font-size="8.15" fill="#1a1a1a" textLength="80.61" lengthAdjust="spacingAndGlyphs">&lt;=10,IL6&lt;=26.5 pg/mL</text>
<path d="M75.00,521.75 H83.90" stroke="#264583" stroke-width="1.5" stroke-dasharray="3.4 2.2"/>
<text x="87.25" y="524.50" font-size="8.15" fill="#1a1a1a" textLength="75.95" lengthAdjust="spacingAndGlyphs">&gt;10,IL6&lt;=26.5 pg/mL</text>
<path d="M46.9,592.5 V591.25 H60 V589.4 H65.6 V586.5 H74.4 V583.75 H80 V581 H160.6" stroke="#6AADE1" stroke-width="1.6" fill="none"/>
<path d="M46.9,591.9 V591.25 H55.6 L57.5,589.4 H76.25 L77.5,587.25 H81.25 L83.75,584.75 V584.6 H119.4 L120.6,582.25 H148.75 L150.6,580 H160.6" stroke="#264583" stroke-width="1.45" fill="none" stroke-dasharray="3.2 2.35"/>
<path d="M46.9,592.5 H50 L52.5,589 L56.9,587.5 L58.75,585 L63.75,583.1 H72.5 L77.5,580 L83.75,576.9 L92.5,575.6 L97.5,572.5 L103.75,569.75 L106.25,569.4 L112.5,566.9 H121.9 L126.25,565.6 H156.9 L160.6,563.75" stroke="#583811" stroke-width="1.45" fill="none" stroke-dasharray="3.2 2.35"/>
<path d="M47.5,591.9 V589.4 H53.1 V584 H58.75 V581.9 H65.6 V576.9 H115.25 V573.75 H116.25 V571.9 H132.25 V569.4 H160.6" stroke="#A4072E" stroke-width="1.45" fill="none"/>
<text x="174.20" y="484.75" font-size="11.7" font-weight="bold" fill="#000" style="stroke:#000;stroke-width:0.3px">Biv</text>
<rect x="212.10" y="488.40" width="1.5" height="110.65" fill="#222222"/>
<rect x="212.10" y="597.90" width="126.70" height="1.2" fill="#222222"/>
<path d="M209.85,594.40 H212.75" stroke="#222222" stroke-width="1.1"/>
<text x="206.40" y="597.45" font-size="8.8" text-anchor="end" fill="#1a1a1a" textLength="11.4" lengthAdjust="spacingAndGlyphs">0.0</text>
<path d="M209.85,573.96 H212.75" stroke="#222222" stroke-width="1.1"/>
<text x="206.40" y="577.01" font-size="8.8" text-anchor="end" fill="#1a1a1a" textLength="11.4" lengthAdjust="spacingAndGlyphs">0.1</text>
<path d="M209.85,553.52 H212.75" stroke="#222222" stroke-width="1.1"/>
<text x="206.40" y="556.57" font-size="8.8" text-anchor="end" fill="#1a1a1a" textLength="11.4" lengthAdjust="spacingAndGlyphs">0.2</text>
<path d="M209.85,533.08 H212.75" stroke="#222222" stroke-width="1.1"/>
<text x="206.40" y="536.13" font-size="8.8" text-anchor="end" fill="#1a1a1a" textLength="11.4" lengthAdjust="spacingAndGlyphs">0.3</text>
<path d="M209.85,512.64 H212.75" stroke="#222222" stroke-width="1.1"/>
<text x="206.40" y="515.69" font-size="8.8" text-anchor="end" fill="#1a1a1a" textLength="11.4" lengthAdjust="spacingAndGlyphs">0.4</text>
<path d="M209.85,492.20 H212.75" stroke="#222222" stroke-width="1.1"/>
<text x="206.40" y="495.25" font-size="8.8" text-anchor="end" fill="#1a1a1a" textLength="11.4" lengthAdjust="spacingAndGlyphs">0.5</text>
<path d="M217.30,598.30 V601.90" stroke="#222222" stroke-width="1.1"/>
<text x="217.30" y="612.10" font-size="9.6" text-anchor="middle" fill="#1a1a1a" textLength="4.8" lengthAdjust="spacingAndGlyphs">0</text>
<path d="M249.30,598.30 V601.90" stroke="#222222" stroke-width="1.1"/>
<text x="250.20" y="612.10" font-size="9.6" text-anchor="middle" fill="#1a1a1a" textLength="13.4" lengthAdjust="spacingAndGlyphs">100</text>
<path d="M281.30,598.30 V601.90" stroke="#222222" stroke-width="1.1"/>
<text x="281.60" y="612.10" font-size="9.6" text-anchor="middle" fill="#1a1a1a" textLength="13.6" lengthAdjust="spacingAndGlyphs">200</text>
<path d="M313.30,598.30 V601.90" stroke="#222222" stroke-width="1.1"/>
<text x="313.60" y="612.10" font-size="9.6" text-anchor="middle" fill="#1a1a1a" textLength="13.6" lengthAdjust="spacingAndGlyphs">300</text>
<text x="275.90" y="625.20" font-size="10.1" text-anchor="middle" fill="#1a1a1a" textLength="16.0" lengthAdjust="spacingAndGlyphs">Days</text>
<text transform="translate(189.70,571.80) rotate(-90)" x="0" y="0" font-size="10.6" fill="#1a1a1a" textLength="56.3" lengthAdjust="spacingAndGlyphs">Probability NRM</text>
<path d="M248.90,496.70 H257.80" stroke="#A4072E" stroke-width="1.5"/>
<text x="261.20" y="499.45" font-size="8.15" fill="#1a1a1a" textLength="75.95" lengthAdjust="spacingAndGlyphs">&lt;=10,IL6&gt;26.5 pg/mL</text>
<path d="M248.90,505.05 H257.80" stroke="#583811" stroke-width="1.5" stroke-dasharray="3.4 2.2"/>
<text x="261.20" y="507.80" font-size="8.15" fill="#1a1a1a" textLength="71.31" lengthAdjust="spacingAndGlyphs">&gt;10,IL6&gt;26.5 pg/mL</text>
<path d="M248.90,513.40 H257.80" stroke="#6AADE1" stroke-width="1.5"/>
<text x="261.20" y="516.15" font-size="8.15" fill="#1a1a1a" textLength="80.61" lengthAdjust="spacingAndGlyphs">&lt;=10,IL6&lt;=26.5 pg/mL</text>
<path d="M248.90,521.75 H257.80" stroke="#264583" stroke-width="1.5" stroke-dasharray="3.4 2.2"/>
<text x="261.20" y="524.50" font-size="8.15" fill="#1a1a1a" textLength="75.95" lengthAdjust="spacingAndGlyphs">&gt;10,IL6&lt;=26.5 pg/mL</text>
<path d="M222.75,591.9 V591.25 H239.6 V586.25 H253.4 V583.1 H334.6" stroke="#6AADE1" stroke-width="1.6" fill="none"/>
<path d="M224,594.4 H226.5 L229.6,591.9 L231,590.6 H249 L251.5,589.4 L256.5,586 V582.5 H291.5 L293.4,580 H322.1 L324,577.5 H334.6" stroke="#264583" stroke-width="1.45" fill="none" stroke-dasharray="3.2 2.35"/>
<path d="M223.4,591.25 H226.5 L230.25,588.1 L234.6,585 L239,583.1 H249 L252.75,578.75 L257.1,576.9 L258,576.6 H266.5 L271.5,573.1 L277.75,570 L280.25,568.5 L286.5,566.9 H295.25 L299,565 H332.75 L334.6,563.1" stroke="#583811" stroke-width="1.45" fill="none" stroke-dasharray="3.2 2.35"/>
<path d="M222.75,591.25 V587.5 H227.1 V580.6 H232.75 V578.5 H239.6 V576.25 H248 V573.75 H289.25 V569.4 H306.25 V566.6 H334.6" stroke="#A4072E" stroke-width="1.45" fill="none"/>
<text x="348.00" y="484.75" font-size="11.7" font-weight="bold" fill="#000" style="stroke:#000;stroke-width:0.3px">Civ</text>
<rect x="385.90" y="488.40" width="1.5" height="110.65" fill="#222222"/>
<rect x="385.90" y="597.90" width="126.70" height="1.2" fill="#222222"/>
<path d="M383.65,594.40 H386.55" stroke="#222222" stroke-width="1.1"/>
<text x="380.20" y="597.45" font-size="8.8" text-anchor="end" fill="#1a1a1a" textLength="11.4" lengthAdjust="spacingAndGlyphs">0.0</text>
<path d="M383.65,573.96 H386.55" stroke="#222222" stroke-width="1.1"/>
<text x="380.20" y="577.01" font-size="8.8" text-anchor="end" fill="#1a1a1a" textLength="11.4" lengthAdjust="spacingAndGlyphs">0.1</text>
<path d="M383.65,553.52 H386.55" stroke="#222222" stroke-width="1.1"/>
<text x="380.20" y="556.57" font-size="8.8" text-anchor="end" fill="#1a1a1a" textLength="11.4" lengthAdjust="spacingAndGlyphs">0.2</text>
<path d="M383.65,533.08 H386.55" stroke="#222222" stroke-width="1.1"/>
<text x="380.20" y="536.13" font-size="8.8" text-anchor="end" fill="#1a1a1a" textLength="11.4" lengthAdjust="spacingAndGlyphs">0.3</text>
<path d="M383.65,512.64 H386.55" stroke="#222222" stroke-width="1.1"/>
<text x="380.20" y="515.69" font-size="8.8" text-anchor="end" fill="#1a1a1a" textLength="11.4" lengthAdjust="spacingAndGlyphs">0.4</text>
<path d="M383.65,492.20 H386.55" stroke="#222222" stroke-width="1.1"/>
<text x="380.20" y="495.25" font-size="8.8" text-anchor="end" fill="#1a1a1a" textLength="11.4" lengthAdjust="spacingAndGlyphs">0.5</text>
<path d="M391.10,598.30 V601.90" stroke="#222222" stroke-width="1.1"/>
<text x="391.10" y="612.10" font-size="9.6" text-anchor="middle" fill="#1a1a1a" textLength="4.8" lengthAdjust="spacingAndGlyphs">0</text>
<path d="M423.10,598.30 V601.90" stroke="#222222" stroke-width="1.1"/>
<text x="424.00" y="612.10" font-size="9.6" text-anchor="middle" fill="#1a1a1a" textLength="13.4" lengthAdjust="spacingAndGlyphs">100</text>
<path d="M455.10,598.30 V601.90" stroke="#222222" stroke-width="1.1"/>
<text x="455.40" y="612.10" font-size="9.6" text-anchor="middle" fill="#1a1a1a" textLength="13.6" lengthAdjust="spacingAndGlyphs">200</text>
<path d="M487.10,598.30 V601.90" stroke="#222222" stroke-width="1.1"/>
<text x="487.40" y="612.10" font-size="9.6" text-anchor="middle" fill="#1a1a1a" textLength="13.6" lengthAdjust="spacingAndGlyphs">300</text>
<text x="449.60" y="625.70" font-size="8.6" text-anchor="middle" fill="#1a1a1a" textLength="14.0" lengthAdjust="spacingAndGlyphs">Days</text>
<text transform="translate(363.50,571.80) rotate(-90)" x="0" y="0" font-size="10.6" fill="#1a1a1a" textLength="56.3" lengthAdjust="spacingAndGlyphs">Probability NRM</text>
<path d="M422.40,496.70 H431.30" stroke="#A4072E" stroke-width="1.5"/>
<text x="434.60" y="499.45" font-size="8.15" fill="#1a1a1a" textLength="75.95" lengthAdjust="spacingAndGlyphs">&lt;=10,IL6&gt;26.5 pg/mL</text>
<path d="M422.40,505.05 H431.30" stroke="#583811" stroke-width="1.5" stroke-dasharray="3.4 2.2"/>
<text x="434.60" y="507.80" font-size="8.15" fill="#1a1a1a" textLength="71.31" lengthAdjust="spacingAndGlyphs">&gt;10,IL6&gt;26.5 pg/mL</text>
<path d="M422.40,513.40 H431.30" stroke="#6AADE1" stroke-width="1.5"/>
<text x="434.60" y="516.15" font-size="8.15" fill="#1a1a1a" textLength="80.61" lengthAdjust="spacingAndGlyphs">&lt;=10,IL6&lt;=26.5 pg/mL</text>
<path d="M422.40,521.75 H431.30" stroke="#264583" stroke-width="1.5" stroke-dasharray="3.4 2.2"/>
<text x="434.60" y="524.50" font-size="8.15" fill="#1a1a1a" textLength="75.95" lengthAdjust="spacingAndGlyphs">&gt;10,IL6&lt;=26.5 pg/mL</text>
<path d="M398.6,594.4 V593.75 H406.75 V591.25 H413 V588.3 H479.9 V585.25 H508" stroke="#6AADE1" stroke-width="1.6" fill="none"/>
<path d="M398.6,594.4 L406.75,591.9 L407,592.25 H422.4 L424.25,588.1 L429.25,586.9 L431.1,584.4 L432,584.1 H445.5 L449.25,582.5 L453,580.6 H464.25 L466.75,579 H495.5 L499.25,577.25 H505.5 L508,575.4" stroke="#264583" stroke-width="1.45" fill="none" stroke-dasharray="3.2 2.35"/>
<path d="M398.6,594.4 L403,591.9 L405.5,588.1 L406.75,585.25 L408,584.4 H421.75 L424.25,582.5 L430.5,577.5 L431,576.9 H439.9 L443,572.5 L446.75,570.6 H458 L460.5,569 H468 L471.1,566.9 H506.75" stroke="#583811" stroke-width="1.45" fill="none" stroke-dasharray="3.2 2.35"/>
<path d="M398.4,591.25 V587.25 H401.1 V584.4 H413 V582.25 H421.75 V580 H425.5 V577.5 H462.75 V574.4 H464 V572.75 H508.25" stroke="#A4072E" stroke-width="1.45" fill="none"/>
<text x="66.6" y="15.6" font-size="10.0" fill="#1a1a1a" textLength="70.2" lengthAdjust="spacingAndGlyphs">Day 7 post-HCT</text>
<text x="237.5" y="15.6" font-size="10.0" fill="#1a1a1a" textLength="76.4" lengthAdjust="spacingAndGlyphs">Day 14 post-HCT</text>
<text x="411.6" y="15.6" font-size="10.0" fill="#1a1a1a" textLength="76.4" lengthAdjust="spacingAndGlyphs">Day 21 post-HCT</text>
<rect x="0" y="0" width="520" height="635" fill="none" stroke="#000" stroke-width="2.5"/>
</svg>
</body></html>
